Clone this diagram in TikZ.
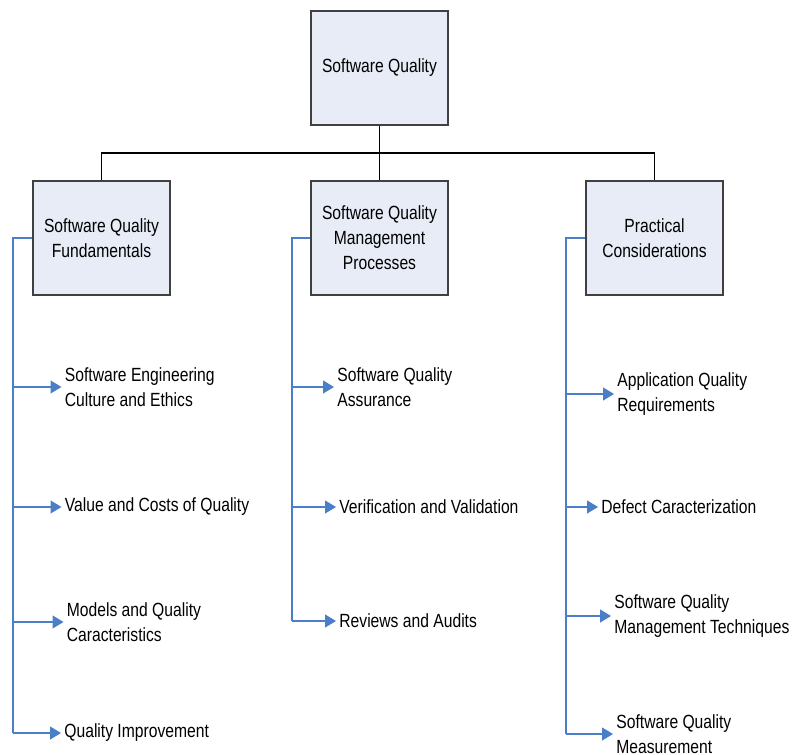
\documentclass[tikz,border=0pt]{standalone}
\usepackage{fontspec}
\setmainfont[FakeStretch=0.82]{Liberation Sans}
\usepackage{xcolor}
\usepackage{tikz}
\usetikzlibrary{arrows.meta, positioning}
\definecolor{sqblue}{HTML}{4A7EC8}
\definecolor{sqfill}{HTML}{E7ECF6}
\definecolor{sqedge}{HTML}{404040}

\begin{document}
\begin{tikzpicture}[x=0.5pt, y=-0.5pt,
  topicbox/.style={draw=sqedge, fill=sqfill, line width=0.6pt, align=center,
    minimum width=68.5pt, minimum height=57pt, inner sep=0pt,
    font=\fontsize{9.55}{12.5}\selectfont},
  itemtext/.style={anchor=west, align=left, inner xsep=1.5pt, inner ysep=0pt,
    font=\fontsize{9.55}{12.5}\selectfont},
  treeline/.style={draw=black, line width=0.75pt},
  trunk/.style={draw=sqblue, line width=0.6pt},
  branch/.style={draw=sqblue, line width=0.6pt,
    -{Triangle[length=5.5pt, width=6.5pt, fill=sqblue]}}]
\useasboundingbox (0,0) rectangle (793,755);

% top of the tree
\node[topicbox] (sq) at (379.5,68) {Software Quality};
\node[topicbox] (fund) at (101.5,238) {Software Quality\\Fundamentals};
\node[topicbox] (mgmt) at (379.5,238) {Software Quality\\Management\\Processes};
\node[topicbox] (prac) at (654.5,238) {Practical\\Considerations};
\coordinate (bar) at (379.5,153);
\draw[treeline] (sq.south) -- (mgmt.north);
\draw[treeline] (fund.north) |- (bar) -| (prac.north);

% left column
\coordinate (fundend) at (13,733);
\node[itemtext] (culture) at (61.5,387) {Software Engineering\\Culture and Ethics};
\node[itemtext] (costs) at (61.5,507) {Value and Costs of Quality};
\node[itemtext] (models) at (63.5,622) {Models and Quality\\Caracteristics};
\node[itemtext] (improve) at (61,733) {Quality Improvement};
\draw[trunk] (fund.west) -| (fundend);
\draw[branch] (culture.west -| fundend) -- (culture.west);
\draw[branch] (costs.west -| fundend) -- (costs.west);
\draw[branch] (models.west -| fundend) -- (models.west);
\draw[branch] (improve.west -| fundend) -- (improve.west);

% middle column
\coordinate (mgmtend) at (292,621);
\node[itemtext] (assure) at (334,387) {Software Quality\\Assurance};
\node[itemtext] (vandv) at (336,507) {Verification and Validation};
\node[itemtext] (audits) at (336,621) {Reviews and Audits};
\draw[trunk] (mgmt.west) -| (mgmtend);
\draw[branch] (assure.west -| mgmtend) -- (assure.west);
\draw[branch] (vandv.west -| mgmtend) -- (vandv.west);
\draw[branch] (audits.west -| mgmtend) -- (audits.west);

% right column
\coordinate (pracend) at (566,734);
\node[itemtext] (appreq) at (614,394) {Application Quality\\Requirements};
\node[itemtext] (defect) at (598,507) {Defect Caracterization};
\node[itemtext] (techniques) at (611,616) {Software Quality\\Management Techniques};
\node[itemtext] (measure) at (613,734) {Software Quality\\Measurement};
\draw[trunk] (prac.west) -| (pracend);
\draw[branch] (appreq.west -| pracend) -- (appreq.west);
\draw[branch] (defect.west -| pracend) -- (defect.west);
\draw[branch] (techniques.west -| pracend) -- (techniques.west);
\draw[branch] (measure.west -| pracend) -- (measure.west);
\end{tikzpicture}
\end{document}
